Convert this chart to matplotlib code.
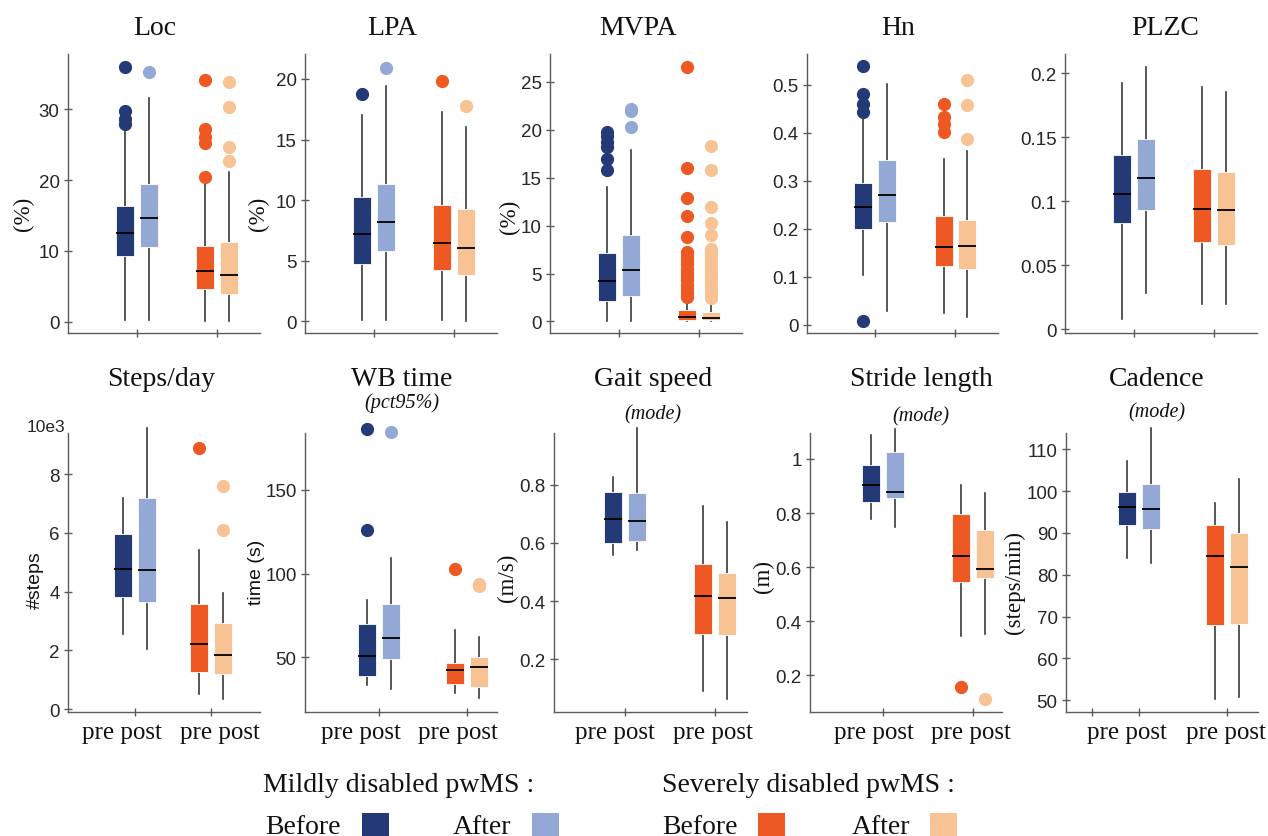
import matplotlib
matplotlib.use('Agg')
import matplotlib.pyplot as plt
from matplotlib.patches import Rectangle
from matplotlib.ticker import FuncFormatter

# box stats, one tuple per box: (q1, median, q3, whisker low, whisker high)
# order: mild pre, mild post, severe pre, severe post
loc_box = [(9.3, 12.5, 16.4, 0.2, 27.0), (10.6, 14.7, 19.5, 0.2, 31.6),
           (4.6, 7.1, 10.7, 0.1, 19.6), (3.95, 6.55, 11.3, 0.05, 21.1)]
loc_out = [[27.9, 28.6, 29.7, 35.9], [35.3], [20.4, 25.3, 26.1, 27.2, 34.1], [22.7, 24.7, 30.3, 33.8]]

lpa_box = [(4.75, 7.2, 10.3, 0.08, 17.06), (5.82, 8.2, 11.3, 0.08, 19.4),
           (4.2, 6.5, 9.56, 0.1, 17.3), (3.8, 6.04, 9.23, 0.05, 16.0)]
lpa_out = [[18.76], [20.9], [19.8], [17.8]]

mvpa_box = [(2.12, 4.2, 7.16, 0.0, 14.0), (2.71, 5.32, 9.07, 0.0, 17.9),
            (0.2, 0.45, 1.18, 0.0, 2.2), (0.2, 0.35, 1.04, 0.0, 2.1)]
mvpa_out = [[15.8, 16.9, 18.2, 18.7, 19.3, 19.8],
            [20.3, 22.0, 22.2],
            [2.6, 3.0, 3.4, 3.8, 4.3, 4.7, 5.1, 5.5, 6.0, 6.4, 6.8, 7.2, 8.8, 11.0, 12.9, 16.0, 26.5],
            [2.5, 2.9, 3.3, 3.7, 4.1, 4.5, 4.9, 5.3, 5.7, 6.1, 6.5, 6.9, 7.3, 7.6, 9.0, 10.3, 11.9, 15.8, 18.3]]

hn_box = [(0.199, 0.246, 0.295, 0.104, 0.43), (0.214, 0.271, 0.344, 0.029, 0.501),
          (0.123, 0.163, 0.227, 0.024, 0.346), (0.116, 0.165, 0.218, 0.017, 0.363)]
hn_out = [[0.008, 0.443, 0.46, 0.48, 0.539], [], [0.402, 0.418, 0.432, 0.46], [0.386, 0.458, 0.51]]

plzc_box = [(0.083, 0.1057, 0.136, 0.0078, 0.192), (0.093, 0.118, 0.1486, 0.028, 0.205),
            (0.068, 0.0938, 0.125, 0.02, 0.189), (0.0654, 0.0933, 0.123, 0.02, 0.185)]
plzc_out = [[], [], [], []]

steps_box = [(3.8, 4.77, 5.97, 2.55, 7.18), (3.63, 4.72, 7.18, 2.04, 9.57),
             (1.26, 2.23, 3.57, 0.51, 5.41), (1.21, 1.84, 2.92, 0.35, 3.94)]
steps_out = [[], [], [8.88], [6.09, 7.58]]

wb_box = [(38.9, 51.0, 69.8, 33.6, 84.5), (48.8, 61.5, 81.7, 31.0, 109.2),
          (33.8, 42.3, 46.8, 28.6, 66.2), (32.4, 44.3, 50.2, 25.6, 62.3)]
wb_out = [[126.2, 186.6], [184.5], [102.9], [92.5, 94.0]]

gait_box = [(0.599, 0.681, 0.776, 0.558, 0.825), (0.606, 0.675, 0.770, 0.575, 0.994),
            (0.288, 0.419, 0.526, 0.091, 0.726), (0.282, 0.41, 0.495, 0.063, 0.672)]
gait_out = [[], [], [], []]

stride_box = [(0.839, 0.903, 0.979, 0.778, 1.09), (0.857, 0.878, 1.025, 0.749, 1.112),
              (0.545, 0.641, 0.795, 0.346, 0.903), (0.559, 0.594, 0.737, 0.354, 0.875)]
stride_out = [[], [], [0.157], [0.113]]

cad_box = [(91.8, 96.1, 99.7, 84.1, 107.3), (91.0, 95.7, 101.7, 82.9, 115.0),
           (68.0, 84.5, 91.8, 50.4, 97.1), (68.2, 81.9, 89.9, 50.8, 102.9)]
cad_out = [[], [], [], []]

titles = ['Loc', 'LPA', 'MVPA', 'Hn', 'PLZC',
          'Steps/day', 'WB time', 'Gait speed', 'Stride length', 'Cadence']
subtitles = ['', '', '', '', '', '', '(pct95%)', '(mode)', '(mode)', '(mode)']
ylabels = ['(%)', '(%)', '(%)', '', '', '#steps', 'time (s)', '(m/s)', '(m)', '(steps/min)']
yticks = [[0, 10, 20, 30], [0, 5, 10, 15, 20], [0, 5, 10, 15, 20, 25],
          [0, 0.1, 0.2, 0.3, 0.4, 0.5], [0, 0.05, 0.1, 0.15, 0.2],
          [0, 2, 4, 6, 8], [50, 100, 150], [0.2, 0.4, 0.6, 0.8],
          [0.2, 0.4, 0.6, 0.8, 1], [50, 60, 70, 80, 90, 100, 110]]
ylims = [(-1.6, 37.8), (-0.96, 22.06), (-1.2, 27.9), (-0.017, 0.564), (-0.003, 0.215),
         (-0.1, 9.4), (17.3, 184), (0.019, 0.977), (0.064, 1.096), (47.2, 113.9)]
group_label = 'pre post'
legend_groups = ['Mildly disabled pwMS :', 'Severely disabled pwMS :']
legend_items = ['Before', 'After']

boxes = [loc_box, lpa_box, mvpa_box, hn_box, plzc_box,
         steps_box, wb_box, gait_box, stride_box, cad_box]
outs = [loc_out, lpa_out, mvpa_out, hn_out, plzc_out,
        steps_out, wb_out, gait_out, stride_out, cad_out]

colors = ['#243a77', '#93a8d4', '#ee5823', '#f8c394']

# layout in pixels (figure 1268 x 837)
W, H = 1268, 837
xpix = [(68, 260), (305, 497), (550, 742), (807, 998), (1065, 1257),
        (68, 260), (305, 497), (554, 747), (810, 1002), (1066, 1258)]
ypix = [(55, 334)] * 5 + [(434, 713)] * 5
xlims = [(0.15, 2.53)] * 5 + [(0.12, 2.64), (0.16, 2.34), (0.21, 2.36), (0.19, 2.32), (0.17, 2.35)]
title_x = [155, 392, 638, 898, 1165, 161, 402, 653, 921, 1157]
sub_y = [0, 0, 0, 0, 0, 0, 403, 415, 417, 413]
ylab_pos = [(-0.234, 0.43), (-0.245, 0.43), (-0.21, 0.42), None, None,
            (-0.17, 0.477), (-0.255, 0.505), (-0.24, 0.484), (-0.245, 0.49), (-0.27, 0.466)]
ylab_serif = [True, True, True, False, False, False, False, True, True, True]
# centres of the "pre post" labels under the bottom row
prepost_x = [(122, 220), (361, 458), (615, 713), (874, 971), (1127, 1226)]

serif = ['Liberation Serif', 'DejaVu Serif']
sans = ['Liberation Sans', 'DejaVu Sans']
plt.rcParams['font.family'] = sans

fig = plt.figure(figsize=(W / 100, H / 100), dpi=100)

for i in range(10):
    (x0, x1), (y0, y1) = xpix[i], ypix[i]
    ax = fig.add_axes([x0 / W, 1 - y1 / H, (x1 - x0) / W, (y1 - y0) / H])
    lo, hi = xlims[i]
    d = 0.0625 * (hi - lo)
    bw = 0.094 * (hi - lo)
    pos = [1 - d, 1 + d, 2 - d, 2 + d]
    stats = []
    for b, o in zip(boxes[i], outs[i]):
        stats.append(dict(q1=b[0], med=b[1], q3=b[2], whislo=b[3], whishi=b[4], fliers=o))
    res = ax.bxp(stats, positions=pos, widths=bw, patch_artist=True, showcaps=False,
                 boxprops=dict(linewidth=0.6, edgecolor='white'),
                 whiskerprops=dict(color='#3a3a3a', linewidth=1.2),
                 medianprops=dict(color='black', linewidth=1.3),
                 flierprops=dict(marker='o', markersize=8.5, linestyle='none'))
    for k, c in enumerate(colors):
        res['boxes'][k].set_facecolor(c)
        res['fliers'][k].set_markerfacecolor(c)
        res['fliers'][k].set_markeredgecolor(c)
    for key in ['boxes', 'whiskers', 'medians', 'fliers']:
        for a in res[key]:
            a.set_clip_on(False)
    for a in res['whiskers']:
        a.set_zorder(1)

    ax.set_xlim(lo, hi)
    ax.set_ylim(*ylims[i])
    ax.set_yticks(yticks[i])
    ax.yaxis.set_major_formatter(FuncFormatter(lambda v, p: f'{v:g}'))
    if i == 9:
        ax.set_xticks([0.47, 1, 2])
    else:
        ax.set_xticks([1, 2])
    ax.set_xticklabels([])

    for s in ['top', 'right']:
        ax.spines[s].set_visible(False)
    for s in ['left', 'bottom']:
        ax.spines[s].set_color('#5a5a5a')
        ax.spines[s].set_linewidth(1.0)
    ax.tick_params(axis='y', direction='inout', length=6, width=1.0, color='#5a5a5a',
                   labelsize=13.5, labelcolor='#262626', pad=3)
    ax.tick_params(axis='x', direction='inout', length=6, width=1.0, color='#5a5a5a')

    if ylab_pos[i] is not None:
        fam = serif if ylab_serif[i] else sans
        fs = 16.5 if ylab_serif[i] else 14
        ax.text(ylab_pos[i][0], ylab_pos[i][1], ylabels[i], transform=ax.transAxes,
                rotation=90, ha='center', va='center', fontsize=fs, family=fam, color='#111111')

    ty = 35 if i < 5 else 386
    fig.text(title_x[i] / W, 1 - ty / H, titles[i], ha='center', va='baseline',
             fontsize=20, family=serif, color='#111111')
    if subtitles[i]:
        fig.text(title_x[i] / W, 1 - sub_y[i] / H, subtitles[i], ha='center', va='center',
                 fontsize=14.5, family=serif, style='italic', color='#111111')
    if i == 5:
        ax.text(-0.115, 1.025, '10e3', transform=ax.transAxes, ha='center', va='center',
                fontsize=12.5, color='#262626')
    if i >= 5:
        for cx in prepost_x[i - 5]:
            fig.text(cx / W, 1 - 739 / H, group_label, ha='center', va='baseline',
                     fontsize=18, family=serif, color='#111111')

# legend drawn by hand, as in the figure
head_x = [263, 662]
item_x = [[(265, 362), (453, 532)], [(662, 758), (852, 930)]]
for g in range(2):
    fig.text(head_x[g] / W, 1 - 792 / H, legend_groups[g], ha='left', va='baseline',
             fontsize=20, family=serif, color='#111111')
    for j in range(2):
        tx, sx = item_x[g][j]
        fig.text(tx / W, 1 - 834 / H, legend_items[j], ha='left', va='baseline',
                 fontsize=20, family=serif, color='#111111')
        fig.patches.append(Rectangle((sx / W, 1 - 840 / H), 27 / W, 26 / H,
                                     transform=fig.transFigure, facecolor=colors[2 * g + j],
                                     edgecolor='none'))

fig.savefig('out.png', dpi=100)
